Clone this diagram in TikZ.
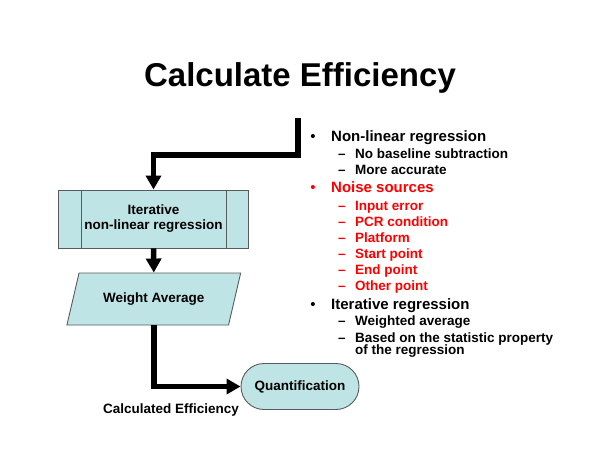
\documentclass[tikz,border=0pt]{standalone}
\usepackage{fontspec}
\setmainfont{Liberation Sans}
\usetikzlibrary{arrows.meta,shapes.geometric}
\definecolor{boxfill}{RGB}{190,228,229}
\definecolor{boxline}{RGB}{90,90,90}
\definecolor{noisered}{RGB}{255,0,0}
\tikzset{
  shapebox/.style={draw=boxline, line width=0.9pt, fill=boxfill, inner sep=0pt,
    font=\fontsize{13.5}{15}\selectfont\bfseries, align=center},
  flow/.style={line width=5.5pt, line join=miter, -{Triangle[width=15pt,length=14pt]}},
  main/.style={anchor=base west, inner sep=0pt, font=\fontsize{15}{18}\selectfont\bfseries},
  sub/.style={anchor=base west, inner sep=0pt, font=\fontsize{13.5}{15}\selectfont\bfseries},
  bul/.style={anchor=base, inner sep=0pt, font=\fontsize{15}{18}\selectfont},
  dashmark/.style={anchor=base, inner sep=0pt, font=\fontsize{13.5}{15}\selectfont\bfseries},
}
\begin{document}
\begin{tikzpicture}[x=1pt,y=-1pt]
\useasboundingbox (0,0) rectangle (600,464);
% title
\node[anchor=base, inner sep=0pt, font=\fontsize{33}{38}\selectfont\bfseries] (title) at (300,86) {Calculate Efficiency};

% flowchart shapes
\node[shapebox, rectangle, minimum width=190pt, minimum height=58pt] (proc) at (153.5,219) {Iterative\\non-linear regression};
\draw[boxline, line width=0.9pt] ([xshift=23pt]proc.north west) -- ([xshift=23pt]proc.south west);
\draw[boxline, line width=0.9pt] ([xshift=-23pt]proc.north east) -- ([xshift=-23pt]proc.south east);

\node[shapebox, trapezium, trapezium left angle=57, trapezium right angle=123,
  trapezium stretches=true, minimum width=174pt, minimum height=52pt] (para) at (153.8,299) {Weight Average};

\node[shapebox, rectangle, rounded corners=23pt, minimum width=118pt, minimum height=46pt] (quant) at (300,386.5) {Quantification};

% connectors
\coordinate (start) at (298,118);
\draw[flow] (start) -- ++(0,37) -| (proc.north);
\draw[flow] (proc.south) -- (para.north);
\draw[flow] (para.south) |- (quant.west);

\node[anchor=base, inner sep=0pt, font=\fontsize{13.5}{15}\selectfont\bfseries] (calc) at (171,413.3) {Calculated Efficiency};

% bullet list
\node[bul] (b1) at (313,141.7) {•};
\node[main] (t1) at (331,141.7) {Non-linear regression};
\node[dashmark] (d11) at (342,158) {–};
\node[sub] (t11) at (355,158) {No baseline subtraction};
\node[dashmark] (d12) at (342,174) {–};
\node[sub] (t12) at (355,174) {More accurate};

\node[bul, text=noisered] (b2) at (313,192.5) {•};
\node[main, text=noisered] (t2) at (331,192.5) {Noise sources};
\node[dashmark, text=noisered] (d21) at (342,210) {–};
\node[sub, text=noisered] (t21) at (355,210) {Input error};
\node[dashmark, text=noisered] (d22) at (342,226) {–};
\node[sub, text=noisered] (t22) at (355,226) {PCR condition};
\node[dashmark, text=noisered] (d23) at (342,242) {–};
\node[sub, text=noisered] (t23) at (355,242) {Platform};
\node[dashmark, text=noisered] (d24) at (342,258) {–};
\node[sub, text=noisered] (t24) at (355,258) {Start point};
\node[dashmark, text=noisered] (d25) at (342,274) {–};
\node[sub, text=noisered] (t25) at (355,274) {End point};
\node[dashmark, text=noisered] (d26) at (342,290.5) {–};
\node[sub, text=noisered] (t26) at (355,290.5) {Other point};

\node[bul] (b3) at (313,309) {•};
\node[main] (t3) at (331,309) {Iterative regression};
\node[dashmark] (d31) at (342,325.7) {–};
\node[sub] (t31) at (355,325.7) {Weighted average};
\node[dashmark] (d32) at (342,342) {–};
\node[sub] (t32) at (355,342) {Based on the statistic property};
\node[sub] (t33) at (355,354.5) {of the regression};
\end{tikzpicture}
\end{document}
